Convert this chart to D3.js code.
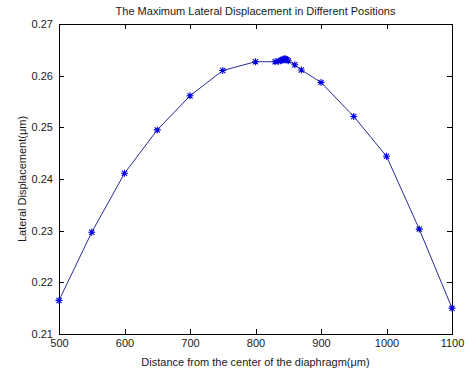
<!DOCTYPE html>
<html>
<head>
<meta charset="utf-8">
<script src="https://cdn.jsdelivr.net/npm/d3@7"></script>
<style>
  body { margin: 0; background: #fff; }
  text { font-family: "Liberation Sans", Arial, sans-serif; fill: #1a1a1a; }
</style>
</head>
<body>
<div id="chart"></div>
<script>
// positions along the diaphragm (um)
const distances = [500, 550, 600, 650, 700, 750, 800, 830, 835, 838, 840, 842, 844, 845, 846, 848, 850, 860, 870, 900, 950, 1000, 1050, 1100];
// max lateral displacement (um)
const displacement = [0.2165, 0.2297, 0.2411, 0.2495, 0.2561, 0.2610, 0.2627, 0.2627, 0.2628, 0.2629, 0.2630, 0.2632, 0.2631, 0.2633, 0.2632, 0.2631, 0.2629, 0.2621, 0.2611, 0.2587, 0.2521, 0.2444, 0.2303, 0.2150];
const xTicks = [500, 600, 700, 800, 900, 1000, 1100];
const yTicks = [0.21, 0.22, 0.23, 0.24, 0.25, 0.26, 0.27];

const W = 469, H = 372;
const margin = {top: 24, right: 17, bottom: 38, left: 59};
const width = W - margin.left - margin.right,
      height = H - margin.top - margin.bottom;

const data = distances.map((d, i) => ({x: d, y: displacement[i]}));

const xScale = d3.scaleLinear().domain([500, 1100]).range([0, width]);
const yScale = d3.scaleLinear().domain([0.21, 0.27]).range([height, 0]);

const svg = d3.select("#chart").append("svg")
  .attr("width", W)
  .attr("height", H);

const g = svg.append("g")
  .attr("transform", `translate(${margin.left},${margin.top})`);

// box
g.append("rect")
  .attr("width", width).attr("height", height)
  .attr("fill", "none").attr("stroke", "#000").attr("stroke-width", 1)
  .attr("shape-rendering", "crispEdges");

// axes, ticks pointing inward like matlab
function styleAxis(sel) {
  sel.select(".domain").remove();
  sel.selectAll(".tick line").attr("stroke", "#000").attr("shape-rendering", "crispEdges");
  sel.selectAll(".tick text").attr("font-size", "11px").attr("fill", "#1a1a1a")
    .attr("font-family", "'Liberation Sans', Arial, sans-serif");
}

g.append("g")
  .attr("transform", `translate(0,${height})`)
  .call(d3.axisBottom(xScale).tickValues(xTicks).tickSize(-5).tickPadding(5).tickFormat(d3.format("d")))
  .call(styleAxis);

g.append("g")
  .call(d3.axisTop(xScale).tickValues(xTicks).tickSize(-5).tickFormat(""))
  .call(styleAxis);

g.append("g")
  .call(d3.axisLeft(yScale).tickValues(yTicks).tickSize(-5).tickPadding(6).tickFormat(d3.format(".2f")))
  .call(styleAxis);

g.append("g")
  .attr("transform", `translate(${width},0)`)
  .call(d3.axisRight(yScale).tickValues(yTicks).tickSize(-5).tickFormat(""))
  .call(styleAxis);

// line
const line = d3.line()
  .x(d => xScale(d.x))
  .y(d => yScale(d.y));

g.append("path")
  .datum(data)
  .attr("fill", "none")
  .attr("stroke", "#2a2a9a")
  .attr("stroke-width", 1)
  .attr("d", line);

// '*' markers
const s = 3.5, sd = 2.6;
const star = `M${-s},0L${s},0M0,${-s}L0,${s}M${-sd},${-sd}L${sd},${sd}M${-sd},${sd}L${sd},${-sd}`;
g.selectAll(".dot")
  .data(data)
  .enter().append("path")
  .attr("class", "dot")
  .attr("transform", d => `translate(${xScale(d.x)},${yScale(d.y)})`)
  .attr("d", star)
  .attr("fill", "none")
  .attr("stroke", "#0000e0")
  .attr("stroke-width", 1.1);

// title and labels
svg.append("text")
  .attr("x", margin.left + width / 2).attr("y", 15)
  .attr("text-anchor", "middle").attr("font-size", "11px")
  .text("The Maximum Lateral Displacement in Different Positions");

svg.append("text")
  .attr("x", margin.left + width / 2).attr("y", 366)
  .attr("text-anchor", "middle").attr("font-size", "11px")
  .text("Distance from the center of the diaphragm(μm)");

svg.append("text")
  .attr("transform", `translate(26,${margin.top + height / 2}) rotate(-90)`)
  .attr("text-anchor", "middle").attr("font-size", "11px")
  .text("Lateral Displacement(μm)");
</script>
</body>
</html>
